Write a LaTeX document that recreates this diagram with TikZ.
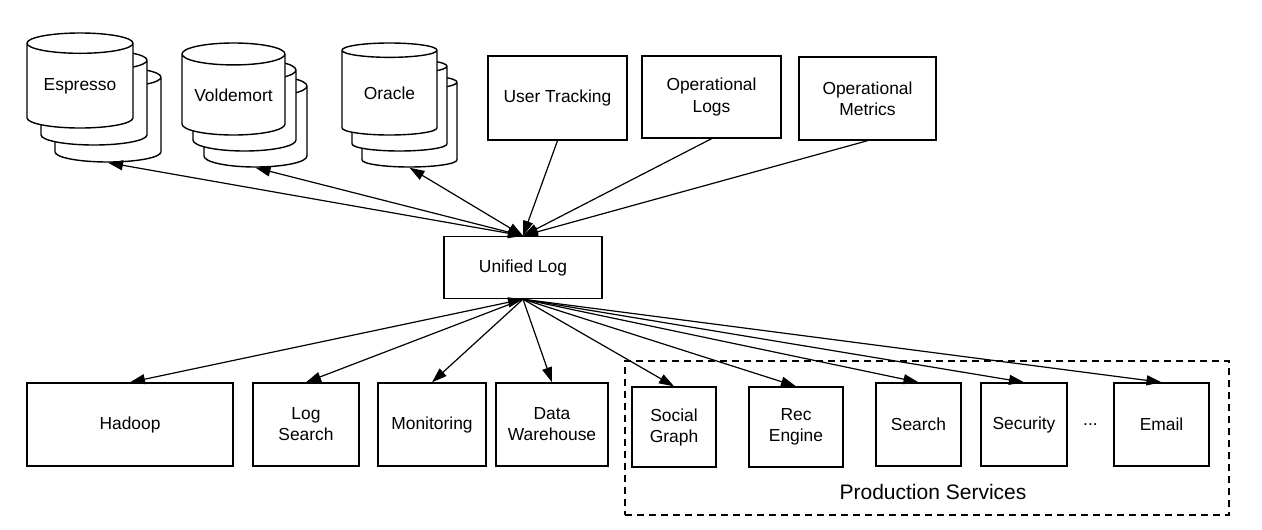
\documentclass[tikz,border=0pt]{standalone}
\usepackage{fontspec}
\setmainfont{Liberation Sans}
\usetikzlibrary{shapes.geometric,arrows.meta,positioning}

\begin{document}
\begin{tikzpicture}[
    x=1pt, y=-1pt,
    every node/.style={align=center, font=\fontsize{17.4}{21}\selectfont},
    box/.style={draw, line width=1.4pt, fill=white, inner sep=0pt},
    db/.style={cylinder, shape border rotate=90, anchor=shape center, draw, line width=1.4pt, fill=white, aspect=0.28, inner sep=0pt},
    arrow/.style={-{Triangle[length=15pt,width=10pt]}, line width=1.2pt},
    twoway/.style={{Triangle[length=15pt,width=10pt]}-{Triangle[length=15pt,width=10pt]}, line width=1.2pt},
    group/.style={draw, dashed, dash pattern=on 7pt off 5pt, line width=1.2pt}
]
    \useasboundingbox (0,0) rectangle (1262,530);

    % Data stores (copies behind first)
    \node[db, minimum width=106pt, minimum height=95pt] (espresso3) at (108,114.5) {\phantom{Espresso}};
    \node[db, minimum width=106pt, minimum height=95pt] (espresso2) at (94,97.5) {\phantom{Espresso}};
    \node[db, minimum width=106pt, minimum height=95pt] (espresso) at (80,80.5) {Espresso};
    \node[db, minimum width=103pt, minimum height=92pt] (voldemort3) at (255.5,121) {\phantom{Voldemort}};
    \node[db, minimum width=103pt, minimum height=92pt] (voldemort2) at (244.5,105) {\phantom{Voldemort}};
    \node[db, minimum width=103pt, minimum height=92pt] (voldemort) at (233.5,89) {Voldemort};
    \node[db, minimum width=95pt, minimum height=92pt] (oracle3) at (409.5,121) {\phantom{Oracle}};
    \node[db, minimum width=95pt, minimum height=92pt] (oracle2) at (399.5,105) {\phantom{Oracle}};
    \node[db, minimum width=95pt, minimum height=92pt] (oracle) at (389.5,89) {Oracle};

    % Event sources
    \node[box, minimum width=139pt, minimum height=84pt] (tracking) at (557.5,98) {User Tracking};
    \node[box, minimum width=139pt, minimum height=82pt] (oplogs) at (711.5,97) {Operational\\Logs};
    \node[box, minimum width=137pt, minimum height=83pt] (opmetrics) at (867.5,98.5) {Operational\\Metrics};

    % The log
    \node[box, minimum width=158pt, minimum height=62pt] (unified) at (523,267.5) {Unified Log};

    % Consumers
    \node[box, minimum width=206pt, minimum height=83pt] (hadoop) at (130,424.5) {Hadoop};
    \node[box, minimum width=106pt, minimum height=83pt] (logsearch) at (306,424.5) {Log\\Search};
    \node[box, minimum width=108pt, minimum height=83pt] (monitoring) at (432,424.5) {Monitoring};
    \node[box, minimum width=112pt, minimum height=83pt] (warehouse) at (552,424.5) {Data\\Warehouse};

    % Production services
    \node[group, minimum width=604pt, minimum height=154pt] (prod) at (927,438) {};
    \node[box, minimum width=84pt, minimum height=80pt] (social) at (674,427) {Social\\Graph};
    \node[box, minimum width=94pt, minimum height=80pt] (rec) at (796,427) {Rec\\Engine};
    \node[box, minimum width=85pt, minimum height=83pt] (search) at (918.5,424.5) {Search};
    \node[box, minimum width=86pt, minimum height=83pt] (security) at (1024,424.5) {Security};
    \node[right=12pt of security] (more) {...};
    \node[box, minimum width=95pt, minimum height=83pt] (email) at (1161.5,424.5) {Email};
    \node[font=\fontsize{21}{25}\selectfont] (prodlabel) at (933,492) {Production Services};

    % Into the log
    \draw[twoway] (espresso3.south) -- (unified.north);
    \draw[twoway] (voldemort3.south) -- (unified.north);
    \draw[twoway] (oracle3.south) -- (unified.north);
    \draw[arrow] (tracking.south) -- (unified.north);
    \draw[arrow] (oplogs.south) -- (unified.north);
    \draw[arrow] (opmetrics.south) -- (unified.north);

    % Out of the log
    \draw[twoway] (unified.south) -- (hadoop.north);
    \draw[arrow] (unified.south) -- (logsearch.north);
    \draw[arrow] (unified.south) -- (monitoring.north);
    \draw[arrow] (unified.south) -- (warehouse.north);
    \draw[arrow] (unified.south) -- (social.north);
    \draw[arrow] (unified.south) -- (rec.north);
    \draw[arrow] (unified.south) -- (search.north);
    \draw[arrow] (unified.south) -- (security.north);
    \draw[arrow] (unified.south) -- (email.north);
\end{tikzpicture}
\end{document}
